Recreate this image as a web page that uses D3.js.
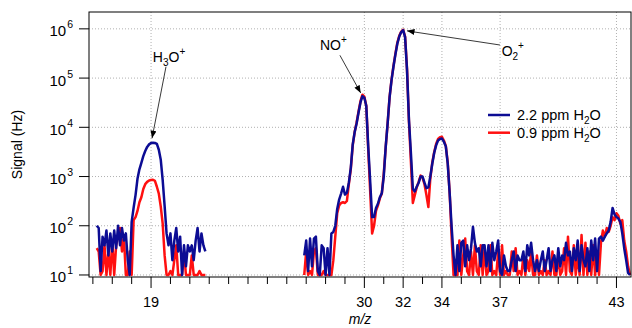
<!DOCTYPE html>
<html>
<head>
<meta charset="utf-8">
<title>Signal vs m/z</title>
<style>
  body { margin: 0; background: #fff; }
  svg { display: block; font-family: "Liberation Sans", Arial, Helvetica, sans-serif; }
  .grid line { stroke: #b0b0b0; stroke-width: 1; stroke-dasharray: 1,2; }
  .tick-line { stroke: #000; stroke-width: 1; }
</style>
<script src="https://d3js.org/d3.v7.min.js"></script>
</head>
<body>
<script>
// m/z sampling of the two recorded segments (0.1 amu steps)
var step = 0.1;
var seg1Start = 16.2;
var seg2Start = 26.9;

// signal (Hz), segment 1 : 16.2 .. 21.8
var blue1 = [
  100, 90, 12, 60, 40, 80, 25, 70,
  30, 80, 35, 100, 40, 90, 50, 70, 20, 10,
  120, 230, 420, 900, 1400, 1900, 2600, 3300, 4000, 4500,
  4800, 4850, 4800, 4600, 3500, 2200, 850, 250, 70, 40,
  70, 20, 50, 90, 30, 60, 10, 40, 15, 40,
  30, 40, 20, 50, 90, 30, 70, 40, 30
];
var red1 = [
  35, 30, 10, 12, 40, 10, 30, 10,
  50, 10, 40, 60, 90, 30, 60, 10, 10, 30,
  10, 130, 150, 200, 300, 380, 560, 700, 780, 830,
  850, 860, 820, 620, 450, 245, 110, 25, 10, 10,
  12, 10, 20, 40, 10, 10, 10, 30, 10, 10,
  10, 25, 10, 10, 10, 12, 10, 10, 10
];

// signal (Hz), segment 2 : 26.9 .. 43.7
var blue2 = [
  25,
  50, 12, 55, 15, 55, 60, 12, 10, 40, 35,
  10, 35, 10, 70, 75, 100, 220, 340, 450, 620,
  430, 470, 750, 1500, 4500, 8000, 12000, 20000, 32000, 43000,
  40000, 27000, 4000, 800, 150, 150, 230, 280, 380, 460,
  1000, 4000, 12000, 40000, 90000, 170000, 300000, 500000, 700000, 860000,
  940000, 680000, 145000, 14000, 3000, 560, 500, 620, 750, 1000,
  1000, 750, 580, 600, 1000, 1800, 3000, 4300, 5400, 5800,
  5900, 5100, 4100, 1800, 450, 95, 25, 10, 40, 12,
  45, 50, 15, 40, 20, 35, 95, 45, 30, 35,
  15, 40, 40, 15, 40, 12, 45, 20, 30, 50,
  12, 10, 25, 15, 12, 12, 20, 30, 12, 25,
  20, 20, 30, 12, 40, 25, 45, 20, 12, 20,
  12, 20, 30, 12, 20, 35, 12, 20, 25, 12,
  35, 15, 25, 20, 45, 25, 30, 12, 35, 20,
  50, 12, 40, 20, 15, 35, 12, 50, 20, 55,
  12, 55, 60, 50, 60, 70, 80, 120, 230, 170,
  150, 140, 120, 70, 35, 20, 11, 10
];
var red2 = [
  10,
  30, 10, 12, 10, 30, 35, 10, 10, 10, 12,
  10, 10, 10, 10, 20, 60, 180, 260, 290, 300,
  290, 320, 700, 1400, 4300, 8000, 12500, 21000, 34000, 46000,
  42000, 27000, 3500, 500, 70, 100, 200, 260, 360, 450,
  1150, 3900, 12000, 41000, 92000, 175000, 310000, 520000, 720000, 880000,
  960000, 700000, 150000, 13000, 2000, 290, 420, 600, 780, 1050,
  950, 700, 420, 240, 900, 1900, 3100, 4600, 5800, 6300,
  6400, 5400, 4200, 1900, 450, 60, 10, 10, 10, 50,
  10, 25, 55, 12, 10, 30, 10, 40, 12, 10,
  40, 10, 35, 10, 12, 40, 10, 12, 10, 30,
  10, 40, 10, 12, 10, 10, 30, 12, 35, 10,
  12, 10, 25, 10, 20, 12, 30, 10, 10, 25,
  10, 12, 10, 20, 10, 12, 10, 30, 10, 10,
  25, 10, 12, 35, 10, 60, 12, 10, 40, 10,
  25, 10, 65, 10, 45, 10, 30, 10, 40, 10,
  30, 10, 45, 80, 60, 90, 75, 100, 150, 130,
  180, 160, 110, 130, 50, 30, 15, 10
];

var seriesNames = ["2.2 ppm H\u2082O", "0.9 ppm H\u2082O"];
var seriesColors = ["#0c0c94", "#ff1010"];

var xLabelTicks = [19, 30, 32, 34, 37, 43];
var yTickExps = [1, 2, 3, 4, 5, 6];

// annotations: [label parts], text anchor (m/z, Hz), arrow tail, arrow tip
var annotations = [
  {parts: [["H", 0], ["3", 1], ["O", 0], ["+", 2]], text: [19.09, 2.1e5], tail: [19.77, 1.7e5], tip: [19.05, 6000]},
  {parts: [["NO", 0], ["+", 2]], text: [27.71, 3.7e5], tail: [28.74, 2.9e5], tip: [29.81, 5.0e4]},
  {parts: [["O", 0], ["2", 1], ["+", 2]], text: [37.08, 2.8e5], tail: [36.99, 4.7e5], tip: [32.2, 9.1e5]}
];

function toPoints(start, vals) {
  return vals.map(function (v, i) { return {mz: start + i * step, v: v}; });
}

var W = 632, H = 328;
var margin = {top: 12, right: 1, bottom: 51, left: 89};
var width = W - margin.left - margin.right,
    height = H - margin.top - margin.bottom;

var svg = d3.select("body").append("svg")
  .attr("width", W).attr("height", H);

var g = svg.append("g")
  .attr("transform", "translate(" + margin.left + "," + margin.top + ")");

var x = d3.scaleLinear().domain([15.8, 43.75]).range([0, width]);
var y = d3.scaleLog().domain([9.1, 2.2e6]).range([height, 0]);

// grid
var grid = g.append("g").attr("class", "grid");
grid.selectAll(".gx").data(xLabelTicks).enter().append("line")
  .attr("x1", function (d) { return x(d); }).attr("x2", function (d) { return x(d); })
  .attr("y1", 0).attr("y2", height);
grid.selectAll(".gy").data(yTickExps).enter().append("line")
  .attr("x1", 0).attr("x2", width)
  .attr("y1", function (d) { return y(Math.pow(10, d)); })
  .attr("y2", function (d) { return y(Math.pow(10, d)); });

// traces
var line = d3.line()
  .x(function (d) { return x(d.mz); })
  .y(function (d) { return y(d.v); });

var segments = [
  {pts: toPoints(seg1Start, red1), c: seriesColors[1]},
  {pts: toPoints(seg2Start, red2), c: seriesColors[1]},
  {pts: toPoints(seg1Start, blue1), c: seriesColors[0]},
  {pts: toPoints(seg2Start, blue2), c: seriesColors[0]}
];
g.selectAll(".trace").data(segments).enter().append("path")
  .attr("class", "trace")
  .attr("fill", "none")
  .attr("stroke", function (d) { return d.c; })
  .attr("stroke-width", 2.5)
  .attr("stroke-linejoin", "round")
  .attr("d", function (d) { return line(d.pts); });

// frame
g.append("rect")
  .attr("x", 0).attr("y", 0).attr("width", width).attr("height", height)
  .attr("fill", "none").attr("stroke", "#000").attr("stroke-width", 1);

// x axis ticks
var minorTicks = d3.range(16, 44);
g.selectAll(".xt").data(minorTicks).enter().append("line")
  .attr("class", "tick-line")
  .attr("x1", function (d) { return x(d); }).attr("x2", function (d) { return x(d); })
  .attr("y1", height)
  .attr("y2", function (d) { return height + (xLabelTicks.indexOf(d) >= 0 ? 11 : 7); });
g.selectAll(".xl").data(xLabelTicks).enter().append("text")
  .attr("x", function (d) { return x(d); })
  .attr("y", height + 29.5)
  .attr("text-anchor", "middle")
  .attr("font-size", 14.5)
  .text(function (d) { return d; });
g.append("text")
  .attr("x", width / 2).attr("y", height + 47)
  .attr("text-anchor", "middle")
  .attr("font-size", 14).attr("font-style", "italic")
  .text("m/z");

// y axis ticks
g.selectAll(".yt").data(yTickExps).enter().append("line")
  .attr("class", "tick-line")
  .attr("x1", -10).attr("x2", 0)
  .attr("y1", function (d) { return y(Math.pow(10, d)); })
  .attr("y2", function (d) { return y(Math.pow(10, d)); });
var yl = g.selectAll(".yl").data(yTickExps).enter().append("text")
  .attr("x", -16)
  .attr("y", function (d) { return y(Math.pow(10, d)) + 7.5; })
  .attr("text-anchor", "end")
  .attr("font-size", 15);
yl.append("tspan").text("10");
yl.append("tspan").attr("font-size", 10.5).attr("dy", -8).attr("dx", 1)
  .text(function (d) { return d; });

g.append("text")
  .attr("transform", "translate(" + (22 - margin.left) + "," + (height / 2) + ") rotate(-90)")
  .attr("text-anchor", "middle")
  .attr("font-size", 14)
  .text("Signal (Hz)");

// legend
var legend = g.append("g").attr("transform", "translate(399,103)");
var legRows = legend.selectAll(".lr").data(seriesNames).enter().append("g")
  .attr("transform", function (d, i) { return "translate(0," + (i * 17.7) + ")"; });
legRows.append("line")
  .attr("x1", 0).attr("x2", 22).attr("y1", 0).attr("y2", 0)
  .attr("stroke", function (d, i) { return seriesColors[i]; })
  .attr("stroke-width", 2.5);
var lt = legRows.append("text").attr("x", 29).attr("y", 5).attr("font-size", 14.5);
lt.append("tspan").text(function (d) { return d.split("H\u2082O")[0] + "H"; });
lt.append("tspan").attr("font-size", 10).attr("dy", 4).text("2");
lt.append("tspan").attr("dy", -4).text("O");

// annotations
svg.append("defs").append("marker")
  .attr("id", "arrow")
  .attr("viewBox", "0 -4 10 8")
  .attr("refX", 10).attr("refY", 0)
  .attr("markerWidth", 8).attr("markerHeight", 6)
  .attr("markerUnits", "userSpaceOnUse")
  .attr("orient", "auto")
  .append("path").attr("d", "M0,-4L10,0L0,4Z").attr("fill", "#000");

annotations.forEach(function (a) {
  g.append("line")
    .attr("x1", x(a.tail[0])).attr("y1", y(a.tail[1]))
    .attr("x2", x(a.tip[0])).attr("y2", y(a.tip[1]))
    .attr("stroke", "#222").attr("stroke-width", 0.9)
    .attr("marker-end", "url(#arrow)");
  var t = g.append("text")
    .attr("x", x(a.text[0])).attr("y", y(a.text[1]))
    .attr("font-size", 14);
  var shift = 0;
  a.parts.forEach(function (p) {
    var target = p[1] === 1 ? 4 : (p[1] === 2 ? -7 : 0);
    var ts = t.append("tspan").attr("dy", target - shift).text(p[0]);
    if (p[1] > 0) ts.attr("font-size", 10);
    shift = target;
  });
});
</script>
</body>
</html>
